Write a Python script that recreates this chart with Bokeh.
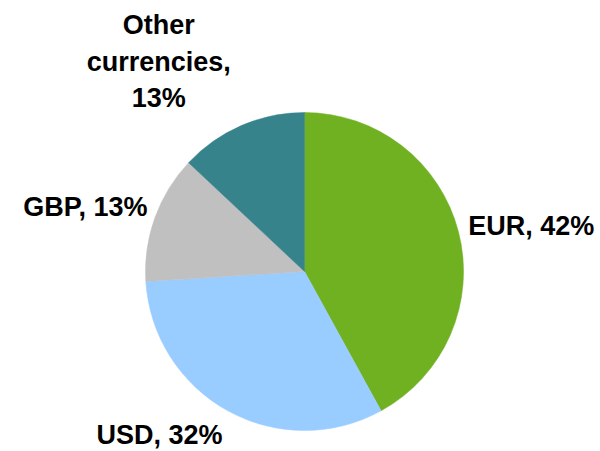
import math
from bokeh.plotting import figure
from bokeh.models import ColumnDataSource, Range1d
from bokeh.core.properties import value
from bokeh.embed import file_html
from bokeh.resources import INLINE

# ---- data ----
currencies = ["EUR", "USD", "GBP", "Other currencies"]
shares = [42, 32, 13, 13]
label_lines = [["EUR, 42%"], ["USD, 32%"], ["GBP, 13%"], ["Other", "currencies,", "13%"]]
colors = ["#70b122", "#99ccff", "#c0c0c0", "#37838c"]

# ---- layout (reference pixel coordinates, y downward -> data y = -y) ----
W, H = 600, 451
cx, cy, R = 304, 271, 159
label_r = 168
label_align = ["left", "right", "right", "center"]
label_nudge = [(1, -4), (-1, 16), (1, -8), (-79, -19)]
line_h = 36.5
font_px = 27

p = figure(width=W, height=H, output_backend="svg", toolbar_location=None,
           x_range=Range1d(0, W), y_range=Range1d(-H, 0),
           min_border=0)
p.axis.visible = False
p.grid.visible = False
p.outline_line_color = None
p.background_fill_color = "white"
p.border_fill_color = "white"

total = float(sum(shares))
starts, ends, mids = [], [], []
cum = 0.0
for s in shares:
    a0 = cum / total
    cum += s
    a1 = cum / total
    starts.append(math.pi / 2 - a0 * 2 * math.pi)
    ends.append(math.pi / 2 - a1 * 2 * math.pi)
    mids.append((a0 + a1) / 2 * 2 * math.pi)  # clockwise from top

src = ColumnDataSource(dict(x=[cx] * len(shares), y=[-cy] * len(shares),
                            start=starts, end=ends, color=colors, name=currencies))
p.wedge(x="x", y="y", radius=R, start_angle="start", end_angle="end",
        direction="clock", fill_color="color", line_color="color", line_width=0.5,
        source=src)

tx, ty, tt, ta = [], [], [], []
for i, lines in enumerate(label_lines):
    ax = cx + label_r * math.sin(mids[i]) + label_nudge[i][0]
    ay = cy - label_r * math.cos(mids[i]) + label_nudge[i][1]  # baseline of last line
    n = len(lines)
    for j, ln in enumerate(lines):
        tx.append(ax)
        ty.append(-(ay - (n - 1 - j) * line_h))
        tt.append(ln)
        ta.append(label_align[i])

tsrc = ColumnDataSource(dict(x=tx, y=ty, text=tt, align=ta))
p.text(x="x", y="y", text="text", text_align="align", text_baseline="alphabetic",
       text_font=value("Liberation Sans"), text_font_style="bold",
       text_font_size=f"{font_px}px", text_color="#000000", source=tsrc)

open("out.html", "w").write(file_html(p, INLINE))
